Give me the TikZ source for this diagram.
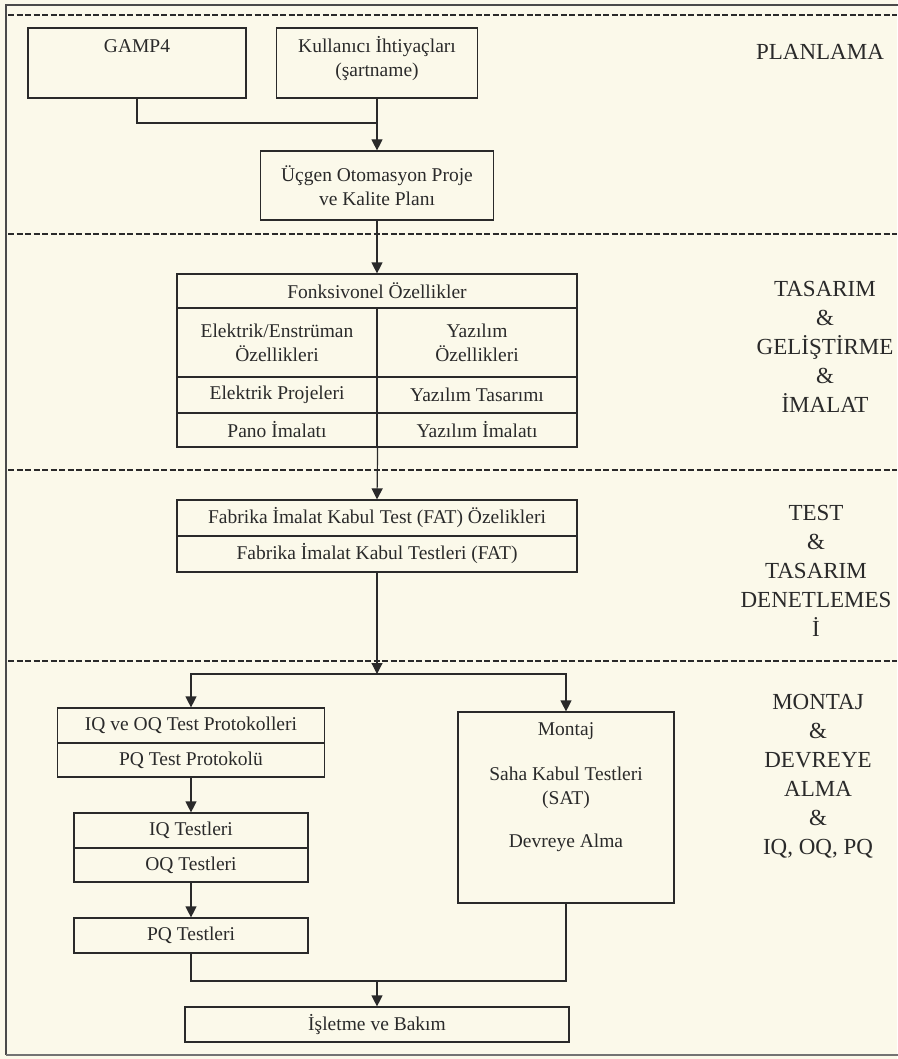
\documentclass[tikz,border=0pt]{standalone}
\usepackage{fontspec}
\setmainfont{Liberation Serif}
\usetikzlibrary{arrows.meta,positioning}
\definecolor{paper}{RGB}{251,249,234}
\definecolor{ink}{RGB}{42,42,42}
\tikzset{box/.style={draw=ink, line width=1.2pt, inner sep=0pt, align=center, text=ink, font=\fontsize{19.5}{24}\selectfont},
txt/.style={inner sep=0pt, align=center, text=ink, font=\fontsize{19.5}{24}\selectfont},
%phase names on the right side
phase/.style={inner sep=0pt, align=center, text=ink, font=\fontsize{23}{29}\selectfont},
sep/.style={draw=ink, line width=1.8pt, dash pattern=on 6pt off 2.5pt},
wire/.style={draw=ink, line width=1.2pt},
flow/.style={wire, -{Triangle[width=11pt,length=11pt]}}}

\begin{document}
\begin{tikzpicture}[x=1pt, y=-1pt]
    \fill[paper] (0,0) rectangle (897,1059);
    \useasboundingbox (0,0) rectangle (897,1059);
    \draw[ink!85, line width=1.4pt] (899,5) -- (6,5) -- (6,1055);
    \draw[black!55, line width=2.4pt] (6,1055) -- (899,1055);

    % phase separators
    \draw[sep] (8,15) -- (897,15);
    \draw[sep] (8,234) -- (897,234);
    \draw[sep] (8,470) -- (897,470);
    \draw[sep] (8,661) -- (897,661);

    % planning
    \node[box, minimum width=218pt, minimum height=70pt] (gamp) at (137,63) {};
    \node[txt] (gampt) at ([yshift=-19pt]gamp.north) {GAMP4};
    \node[box, minimum width=201pt, minimum height=70pt] (kul) at (377,63) {};
    \node[txt] (kult) at ([yshift=-31.5pt]kul.north) {Kullanıcı İhtiyaçları\\(şartname)};
    \node[box, minimum width=233pt, minimum height=69pt] (ucgen) at (377,185.5) {Üçgen Otomasyon Proje\\ve Kalite Planı};

    % design and manufacturing
    \node[box, minimum width=400pt, minimum height=34pt] (fonk) at (377,291) {Fonksivonel Özellikler};
    \node[box, minimum width=200pt, minimum height=69pt] (elo) at (277,342.5) {Elektrik/Enstrüman\\Özellikleri};
    \node[box, minimum width=200pt, minimum height=69pt] (yazo) at (477,342.5) {Yazılım\\Özellikleri};
    \node[box, minimum width=200pt, minimum height=36pt] (elp) at (277,395) {Elektrik Projeleri};
    \node[box, minimum width=200pt, minimum height=36pt] (yazt) at (477,395) {Yazılım Tasarımı};
    \node[box, minimum width=200pt, minimum height=34pt] (pano) at (277,430) {Pano İmalatı};
    \node[box, minimum width=200pt, minimum height=34pt] (yazi) at (477,430) {Yazılım İmalatı};

    % factory tests
    \node[box, minimum width=400pt, minimum height=36pt] (fats) at (377,518) {Fabrika İmalat Kabul Test (FAT) Özelikleri};
    \node[box, minimum width=400pt, minimum height=36pt] (fatt) at (377,554) {Fabrika İmalat Kabul Testleri (FAT)};

    % installation and qualification
    \node[box, minimum width=267pt, minimum height=35pt] (iqp) at (191,725.5) {IQ ve OQ Test Protokolleri};
    \node[box, minimum width=267pt, minimum height=34pt] (pqp) at (191,760) {PQ Test Protokolü};
    \node[box, minimum width=234pt, minimum height=35pt] (iqt) at (191,830.5) {IQ Testleri};
    \node[box, minimum width=234pt, minimum height=34pt] (oqt) at (191,865) {OQ Testleri};
    \node[box, minimum width=234pt, minimum height=35pt] (pqt) at (191,935.5) {PQ Testleri};
    \node[box, minimum width=216pt, minimum height=191pt] (montaj) at (566,807.5) {};
    \node[txt] (montajt) at ([yshift=-75.5pt]montaj.north) {Montaj\\[21pt]Saha Kabul Testleri\\(SAT)\\[19pt]Devreye Alma};
    \node[box, minimum width=384pt, minimum height=35pt] (islet) at (377,1024.5) {İşletme ve Bakım};

    \coordinate (join) at (377,123);
    \coordinate (split) at (377,674);
    \coordinate (merge) at (377,981);

    \draw[wire] (gamp.south) |- (join);
    \draw[flow] (kul.south) -- (ucgen.north);
    \draw[flow] (ucgen.south) -- (fonk.north);
    \draw[flow] (pano.south east) -- (fats.north);
    \draw[flow] (fatt.south) -- (split);
    \draw[flow] (split) -| (iqp.north);
    \draw[flow] (split) -| (montaj.north);
    \draw[flow] (pqp.south) -- (iqt.north);
    \draw[flow] (oqt.south) -- (pqt.north);
    \draw[wire] (pqt.south) |- (merge) -| (montaj.south);
    \draw[flow] (merge) -- (islet.north);

    \node[phase] (plan) at (820,52) {PLANLAMA};
    \node[phase] (tasarim) at (825,347) {TASARIM\\\&\\GELİŞTİRME\\\&\\İMALAT};
    \node[phase] (test) at (816,571) {TEST\\\&\\TASARIM\\DENETLEMES\\İ};
    \node[phase] (kurulum) at (818,776) {MONTAJ\\\&\\DEVREYE\\ALMA\\\&\\IQ, OQ, PQ};
\end{tikzpicture}
\end{document}
